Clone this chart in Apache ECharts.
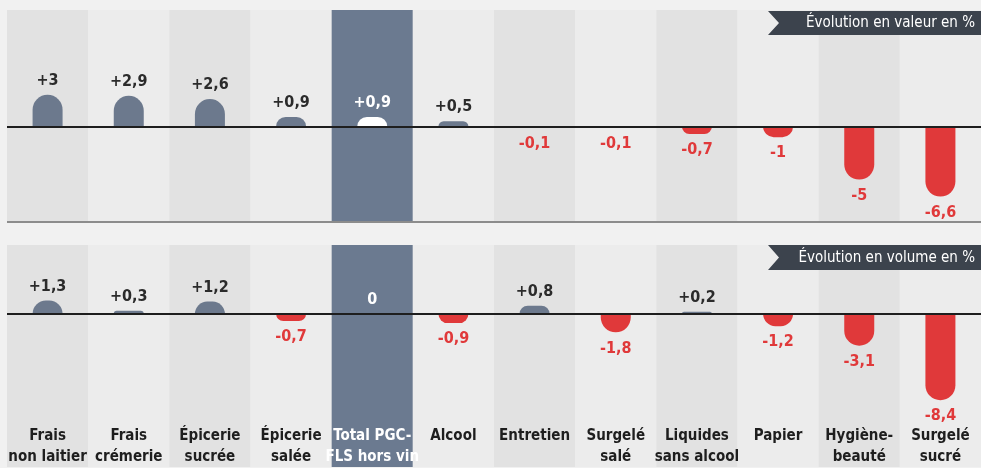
<!DOCTYPE html>
<html>
<head>
<meta charset="utf-8">
<script src="https://cdn.jsdelivr.net/npm/echarts@6/dist/echarts.min.js"></script>
<style>
html,body{margin:0;padding:0;background:#f1f1f1;}
#c{width:981px;height:468px;}
</style>
</head>
<body>
<div id="c"></div>
<script>
// ---- data ----
const categories = ['Frais\nnon laitier', 'Frais\ncrémerie', 'Épicerie\nsucrée', 'Épicerie\nsalée',
  'Total PGC-\nFLS hors vin', 'Alcool', 'Entretien', 'Surgelé\nsalé', 'Liquides\nsans alcool',
  'Papier', 'Hygiène-\nbeauté', 'Surgelé\nsucré'];
const valeurValues = [3, 2.9, 2.6, 0.9, 0.9, 0.5, -0.1, -0.1, -0.7, -1, -5, -6.6];
const volumeValues = [1.3, 0.3, 1.2, -0.7, 0, -0.9, 0.8, -1.8, 0.2, -1.2, -3.1, -8.4];
const totalIndex = 4;
const titleValeur = 'Évolution en valeur en %';
const titleVolume = 'Évolution en volume en %';

// ---- style ----
const FONT = "'Liberation Sans Narrow','DejaVu Sans Condensed','Roboto Condensed',Roboto,sans-serif";
const POS = '#6c798d', NEG = '#e0393a', TOTAL_BG = '#6b7a90';
const stripColors = categories.map((c, i) => i === totalIndex ? TOTAL_BG : (i % 2 === 0 ? '#e2e2e2' : '#ececec'));

function fmt(v) {
  return (v > 0 ? '+' : '') + String(v).replace('.', ',');
}
function items(vals) {
  return vals.map((v, i) => {
    const isTotal = i === totalIndex;
    const neg = v < 0;
    return {
      value: v,
      itemStyle: {
        color: isTotal ? '#ffffff' : (neg ? NEG : POS),
        borderRadius: neg ? [0, 0, 15, 15] : [15, 15, 0, 0]
      },
      label: {
        position: neg ? 'bottom' : 'top',
        distance: neg ? 8 : 6,
        color: isTotal ? '#ffffff' : (neg ? NEG : '#2b2b2b')
      }
    };
  });
}
function series(vals, idx) {
  return {
    type: 'bar', xAxisIndex: idx, yAxisIndex: idx,
    barWidth: 30,
    data: items(vals),
    label: { show: true, formatter: p => fmt(p.value), fontFamily: FONT, fontWeight: 'bold', fontSize: 16 },
    markLine: {
      silent: true, symbol: 'none', label: { show: false },
      lineStyle: { color: '#1e1e1e', width: 2, type: 'solid' },
      data: [{ yAxis: 0 }]
    },
    z: 3
  };
}

const labelStyle = {
  fontFamily: FONT, fontWeight: 'bold', fontSize: 15, lineHeight: 21, verticalAlign: 'top'
};

const chart = echarts.init(document.getElementById('c'), null, { renderer: 'canvas' });
chart.setOption({
  backgroundColor: '#f1f1f1',
  animation: false,
  grid: [
    { left: 7, right: 0, top: 10, height: 212 },
    { left: 7, right: 0, top: 245, bottom: 0 }
  ],
  xAxis: [
    {
      type: 'category', gridIndex: 0, data: categories,
      axisLine: { show: false }, axisTick: { show: false }, axisLabel: { show: false },
      splitArea: { show: true, interval: 0, areaStyle: { color: stripColors } }
    },
    {
      type: 'category', gridIndex: 1,
      data: categories.map((c, i) => i === totalIndex
        ? { value: c, textStyle: Object.assign({}, labelStyle, { color: '#ffffff' }) } : c),
      axisLine: { show: false }, axisTick: { show: false },
      axisLabel: Object.assign({ inside: true, interval: 0, margin: 41, color: '#1e1e1e' }, labelStyle),
      splitArea: { show: true, interval: 0, areaStyle: { color: stripColors } }
    }
  ],
  yAxis: [
    { type: 'value', gridIndex: 0, min: -9, max: 11, show: false, splitLine: { show: false } },
    { type: 'value', gridIndex: 1, min: -14.9, max: 6.7, show: false, splitLine: { show: false } }
  ],
  series: [series(valeurValues, 0), series(volumeValues, 1)],
  graphic: [
    { type: 'rect', shape: { x: 7, y: 221, width: 974, height: 2 }, style: { fill: '#8c8c8c' }, z: 10 },
    { type: 'polygon', shape: { points: [[768, 11], [981, 11], [981, 35], [768, 35], [779, 23]] }, style: { fill: '#3c434d' }, z: 10 },
    { type: 'text', x: 975, y: 23, style: { text: titleValeur, fill: '#ffffff', font: '15px ' + FONT, align: 'right', verticalAlign: 'middle' }, z: 11 },
    { type: 'polygon', shape: { points: [[768, 245], [981, 245], [981, 270], [768, 270], [779, 257.5]] }, style: { fill: '#3c434d' }, z: 10 },
    { type: 'text', x: 975, y: 258, style: { text: titleVolume, fill: '#ffffff', font: '15px ' + FONT, align: 'right', verticalAlign: 'middle' }, z: 11 }
  ]
});
</script>
</body>
</html>
